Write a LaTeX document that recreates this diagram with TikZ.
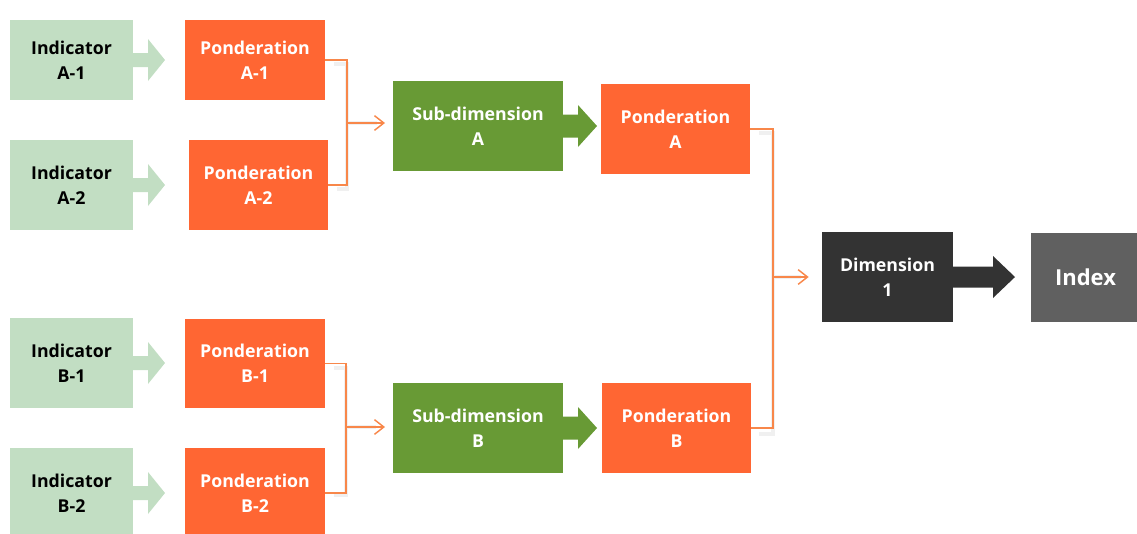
\documentclass[tikz,border=0pt]{standalone}
\usepackage{fontspec}
\setmainfont{Open Sans}
\usetikzlibrary{arrows.meta,calc}
\definecolor{lgreen}{HTML}{C2DEC3}
\definecolor{orng}{HTML}{FF6633}
\definecolor{dgreen}{HTML}{689A35}
\definecolor{darkbox}{HTML}{333333}
\definecolor{idxgray}{HTML}{606060}
\definecolor{lineor}{HTML}{F8874A}
\tikzset{
 box/.style={rectangle, inner sep=0pt, outer sep=0pt, align=center,
   font=\bfseries\fontsize{13.3}{19}\selectfont, text=white},
 ind/.style={box, fill=lgreen, text=black},
 pond/.style={box, fill=orng},
 sub/.style={box, fill=dgreen},
 dimn/.style={box, fill=darkbox},
 idx/.style={box, fill=idxgray, font=\bfseries\fontsize{16.5}{19}\selectfont},
 conn/.style={draw=lineor, line width=1.1pt},
 connarrow/.style={conn, -{Straight Barb[length=7pt,width=11pt,line width=1.1pt]}},
 shadowline/.style={draw=black!6, line width=3pt},
}
\newcommand\bx[7]{\node[#1, minimum width={(#4-#2)*0.75}, minimum height={(#5-#3)*0.75}] (#6) at ({(#2+#4)/2},{(#3+#5)/2}) {#7};}
% style, node, shaft length, head length, shaft half, head half
\newcommand\barrow[6]{\fill[#1] (#2.east) ++(0,-#5) -- ++(#3,0) -- ++(0,-#6+#5) -- ++(#4,#6) -- ++(-#4,#6) -- ++(0,-#6+#5) -- ++(-#3,0) -- cycle;}
\begin{document}
\begin{tikzpicture}[x=0.75pt,y=-0.75pt]
\useasboundingbox (0,0) rectangle (1137,533);
\clip (0,0) rectangle (1137,533);
% junctions (positions of the bends)
\coordinate (ja) at (347,123);
\coordinate (jb) at (346,427);
\coordinate (jd) at (773,277);
% soft shadows of the connectors
\begin{scope}[shift={(4,4)}]
\draw[shadowline] (330,60) -| (ja) |- (333,185);
\draw[shadowline] (ja) -- ++(30,0);
\draw[shadowline] (330,364) -| (jb) |- (330,491);
\draw[shadowline] (jb) -- ++(30,0);
\draw[shadowline] (755,129) -| (jd) |- (755,430);
\draw[shadowline] (jd) -- ++(28,0);
\end{scope}
% boxes
\bx{ind}{10}{20}{133}{100}{ia1}{Indicator\\A-1}
\bx{ind}{10}{140}{133}{230}{ia2}{Indicator\\A-2}
\bx{ind}{10}{318}{133}{408}{ib1}{Indicator\\B-1}
\bx{ind}{10}{448}{133}{538}{ib2}{Indicator\\B-2}
\bx{pond}{185}{20}{325}{100}{pa1}{Ponderation\\A-1}
\bx{pond}{189}{140}{328}{230}{pa2}{Ponderation\\A-2}
\bx{pond}{185}{319}{325}{408}{pb1}{Ponderation\\B-1}
\bx{pond}{185}{448}{325}{538}{pb2}{Ponderation\\B-2}
\bx{sub}{393}{81}{563}{171}{sa}{Sub-dimension\\A}
\bx{sub}{393}{383}{563}{473}{sb}{Sub-dimension\\B}
\bx{pond}{601}{84}{750}{174}{pa}{Ponderation\\A}
\bx{pond}{602}{383}{751}{473}{pb}{Ponderation\\B}
\bx{dimn}{822}{232}{953}{322}{dim}{Dimension\\1}
\bx{idx}{1031}{233}{1140}{322}{index}{Index}
% block arrows
\barrow{lgreen}{ia1}{15}{17}{7}{21}
\barrow{lgreen}{ia2}{15}{17}{7}{21}
\barrow{lgreen}{ib1}{15}{17}{7}{21}
\barrow{lgreen}{ib2}{15}{17}{7}{21}
\barrow{dgreen}{sa}{15}{19}{11.5}{21}
\barrow{dgreen}{sb}{15}{19}{11.5}{21}
\barrow{darkbox}{dim}{40}{22}{10.5}{21}
% connectors
\draw[conn] (pa1.east) -| (ja);
\draw[conn] (pa2.east) -| (ja);
\draw[connarrow, shorten >=6pt] (ja) -- (ja -| sa.west);
\draw[conn] (pb1.east) -| (jb);
\draw[conn] (pb2.east) -| (jb);
\draw[connarrow, shorten >=6pt] (jb) -- (jb -| sb.west);
\draw[conn] (pa.east) -| (jd);
\draw[conn] (pb.east) -| (jd);
\draw[connarrow, shorten >=10pt] (jd) -- (dim.west);
\end{tikzpicture}
\end{document}
